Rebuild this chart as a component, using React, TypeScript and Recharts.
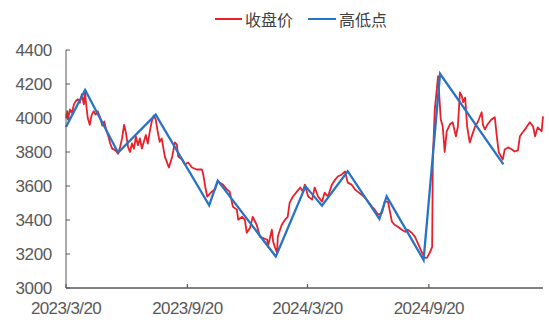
import React from 'react';
import { LineChart, Line, XAxis, YAxis, Legend, ReferenceLine } from 'recharts';

const START_DATE = '2023/3/20';
const xTickLabels = ['2023/3/20', '2023/9/20', '2024/3/20', '2024/9/20'];
const yTicks = [3000, 3200, 3400, 3600, 3800, 4000, 4200, 4400];
const X_END_DAY = 723;

// days since 2023/3/20 and closing values (收盘价)
const closeDays = [
  0, 2, 3, 6, 9, 12, 15, 18, 21, 24,
  27, 29, 30, 33, 36, 39, 42, 45, 48, 52,
  55, 58, 61, 64, 67, 70, 73, 76, 79, 82,
  85, 88, 91, 94, 97, 100, 103, 106, 109, 112,
  115, 118, 121, 124, 127, 130, 133, 136, 139, 142,
  145, 150, 153, 156, 161, 165, 168, 170, 176, 180,
  185, 191, 198, 206, 208, 211, 214, 221, 226, 230,
  238, 244, 248, 253, 259, 261, 267, 271, 274, 279,
  283, 289, 294, 298, 305, 306, 312, 314, 317, 320,
  321, 327, 332, 336, 339, 344, 350, 355, 359, 362,
  367, 373, 377, 382, 388, 392, 397, 403, 408, 412,
  418, 423, 427, 433, 438, 442, 448, 453, 458, 464,
  468, 473, 479, 483, 488, 494, 498, 503, 509, 514,
  518, 524, 529, 533, 539, 544, 547, 552, 555, 556,
  559, 564, 568, 571, 574, 577, 582, 586, 591, 594,
  597, 600, 602, 605, 608, 612, 615, 620, 624, 630,
  632, 635, 639, 645, 650, 653, 656, 662, 665, 670,
  676, 680, 685, 688, 692, 698, 703, 708, 711, 715,
  721, 723,
];
const closeValues = [
  4000, 4040, 3990, 4050, 4030, 4080, 4100, 4110, 4090, 4140,
  4080, 4150, 4100, 4000, 3960, 4020, 4040, 4020, 4040, 4000,
  3955, 3980, 3930, 3895, 3850, 3820, 3815, 3805, 3790, 3830,
  3880, 3960, 3910, 3830, 3800, 3850, 3820, 3890, 3840, 3880,
  3820, 3860, 3900, 3850, 3920, 3980, 4015, 3990, 3920, 3860,
  3880, 3770, 3740, 3709, 3774, 3856, 3845, 3774, 3756, 3727,
  3738, 3709, 3697, 3697, 3668, 3597, 3538, 3567, 3579, 3626,
  3608, 3579, 3567, 3478, 3461, 3402, 3419, 3402, 3325, 3354,
  3419, 3372, 3301, 3295, 3284, 3242, 3343, 3272, 3236, 3207,
  3301, 3372, 3402, 3419, 3502, 3538, 3567, 3591, 3567, 3608,
  3538, 3520, 3591, 3538, 3508, 3561, 3538, 3608, 3638, 3656,
  3668, 3685, 3620, 3608, 3579, 3567, 3549, 3532, 3508, 3478,
  3461, 3431, 3443, 3508, 3508, 3390, 3372, 3360, 3343, 3331,
  3343, 3325, 3301, 3266, 3213, 3177, 3177, 3213, 3242, 3756,
  4051, 4246, 3992, 3950, 3800, 3921, 3963, 3975, 3892, 3950,
  4150, 4128, 4093, 4120, 3950, 3856, 3892, 3950, 3975, 4034,
  3960, 3933, 3963, 3992, 4004, 3892, 3797, 3756, 3815, 3827,
  3815, 3803, 3810, 3892, 3915, 3945, 3975, 3950, 3892, 3945,
  3921, 4010,
];

// high / low pivots (高低点)
const pivotDays = [0, 29, 79, 136, 217, 230, 318, 363, 388, 427, 475, 486, 542, 567, 663];
const pivotValues = [3947, 4165, 3796, 4020, 3486, 3632, 3185, 3598, 3484, 3687, 3406, 3539, 3165, 4260, 3727];

const parseDate = (s: string) => {
  const [y, m, d] = s.split('/').map(Number);
  return Date.UTC(y, m - 1, d);
};
const dayOf = (s: string) => Math.round((parseDate(s) - parseDate(START_DATE)) / 86400000);
const labelOfDay = (day: number) => {
  const dt = new Date(parseDate(START_DATE) + day * 86400000);
  return `${dt.getUTCFullYear()}/${dt.getUTCMonth() + 1}/${dt.getUTCDate()}`;
};

const xTicks = xTickLabels.map(dayOf);
const closeData = closeDays.map((d, i) => ({ day: d, close: closeValues[i] }));
const pivotData = pivotDays.map((d, i) => ({ day: d, pivot: pivotValues[i] }));

const RED = '#E8202A';
const BLUE = '#2774C6';
const AXIS = '#595959';
const TEXT = '#595959';
const FONT = '"Liberation Sans", Arial, sans-serif';

const YTick = (props: any) => {
  const { x, y, payload } = props;
  return (
    <g>
      <line x1={x + 14} x2={x + 18} y1={y} y2={y} stroke={AXIS} strokeWidth={1} />
      <text x={x} y={y} dy="0.36em" textAnchor="end" fill={TEXT} fontSize={17} fontFamily={FONT} letterSpacing={-0.3}>
        {payload.value}
      </text>
    </g>
  );
};

const XTick = (props: any) => {
  const { x, y, payload } = props;
  return (
    <g>
      <line x1={x} x2={x} y1={y - 14} y2={y - 18} stroke={AXIS} strokeWidth={1.2} />
      <text x={x} y={y} dy="0.72em" textAnchor="middle" fill={TEXT} fontSize={17} fontFamily={FONT} letterSpacing={-0.6}>
        {labelOfDay(payload.value)}
      </text>
    </g>
  );
};

const LegendContent = () => (
  <div
    style={{
      display: 'flex',
      alignItems: 'center',
      fontFamily: '"Noto Sans CJK SC", sans-serif',
      fontSize: 16,
      color: '#404040',
      lineHeight: '22px',
      whiteSpace: 'nowrap',
    }}
  >
    <span style={{ display: 'inline-block', width: 27, height: 2, background: RED }} />
    <span style={{ marginLeft: 3 }}>收盘价</span>
    <span style={{ display: 'inline-block', width: 28, height: 2.5, background: BLUE, marginLeft: 15 }} />
    <span style={{ marginLeft: 3 }}>高低点</span>
  </div>
);

export default function App() {
  return (
    <div style={{ position: 'absolute', left: 0, top: 0, width: 549, height: 324, background: '#fff' }}>
      <LineChart width={549} height={324} margin={{ top: 28, right: 6, bottom: 0, left: 0 }}>
        <XAxis
          dataKey="day"
          type="number"
          domain={[0, X_END_DAY]}
          ticks={xTicks}
          height={36}
          tickSize={0}
          tickMargin={14}
          stroke={AXIS}
          tick={<XTick />}
          interval={0}
        />
        <YAxis
          type="number"
          domain={[3000, 4400]}
          ticks={yTicks}
          width={66}
          tickSize={0}
          tickMargin={14}
          stroke={AXIS}
          tick={<YTick />}
          interval={0}
        />
        <ReferenceLine y={3000} stroke={AXIS} strokeWidth={1.2} ifOverflow="visible" />
        <Legend
          layout="vertical"
          verticalAlign="top"
          align="center"
          content={<LegendContent />}
          wrapperStyle={{ top: 8, left: 215, width: 200, height: 22 }}
        />
        <Line
          data={closeData}
          dataKey="close"
          name="收盘价"
          stroke={RED}
          strokeWidth={1.8}
          dot={false}
          isAnimationActive={false}
          strokeLinejoin="round"
        />
        <Line
          data={pivotData}
          dataKey="pivot"
          name="高低点"
          stroke={BLUE}
          strokeWidth={2.3}
          dot={false}
          isAnimationActive={false}
          strokeLinejoin="miter"
        />
      </LineChart>
    </div>
  );
}
